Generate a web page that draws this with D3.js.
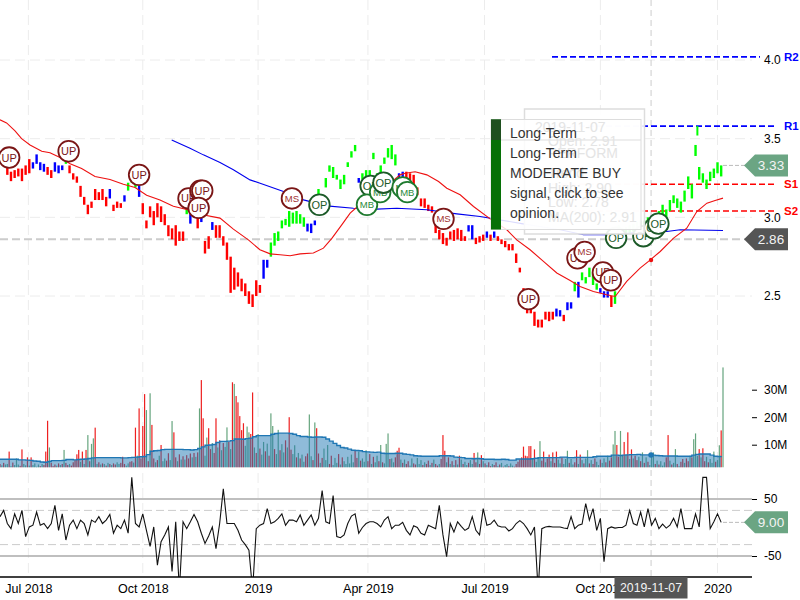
<!DOCTYPE html>
<html>
<head>
<meta charset="utf-8">
<script src="https://cdn.jsdelivr.net/npm/d3@7"></script>
<style>
  html, body { margin: 0; padding: 0; background: #fff; }
  svg { display: block; font-family: "Liberation Sans", Arial, sans-serif; }
  .axis .domain { display: none; }
</style>
</head>
<body>
<div id="chart"></div>
<script>
// price bars, one every second session
const barHigh = [null,null,3.33,3.29,3.30,3.31,3.31,3.33,3.37,3.35,
  3.40,3.35,3.34,3.32,3.30,3.35,3.33,3.33,3.37,3.33,
  3.28,3.26,3.20,3.13,3.08,3.10,3.18,3.16,3.18,3.13,
  3.18,3.08,3.10,3.09,3.14,3.22,3.25,3.24,3.20,3.09,
  2.98,3.07,3.04,3.09,3.07,3.02,2.95,2.93,2.95,2.91,
  2.91,3.08,3.02,3.04,3.00,3.04,2.85,2.88,2.97,2.95,
  2.95,2.88,2.84,2.75,2.68,2.65,2.61,2.58,2.53,2.51,
  2.60,2.57,2.73,2.73,2.84,2.90,2.91,2.98,2.99,3.04,
  3.03,3.04,3.02,3.00,2.96,2.96,2.98,3.18,3.10,3.25,
  3.33,3.32,3.27,3.24,3.27,3.35,3.42,3.46,3.25,3.28,
  3.30,3.30,3.41,3.28,3.33,3.38,3.44,3.46,3.40,3.28,
  3.29,3.29,3.28,3.27,3.19,3.12,3.12,3.08,3.07,2.97,
  2.92,2.90,2.87,2.91,2.92,2.93,2.92,2.88,2.95,2.95,
  2.87,2.88,2.89,2.91,2.89,2.91,2.88,2.86,2.85,2.83,
  2.83,2.77,2.68,2.55,2.47,2.45,2.40,2.35,2.35,2.40,
  2.40,2.40,2.42,2.41,2.38,2.46,2.46,2.59,2.59,2.65,
  2.62,2.68,2.65,2.58,2.55,2.53,2.53,2.50,2.53,2.95,
  2.93,2.94,2.95,2.96,2.97,2.98,2.98,3.00,3.01,3.02,
  3.04,3.08,3.05,3.11,3.14,3.12,3.10,3.17,3.26,3.21,
  3.46,3.32,3.28,3.24,3.29,3.31,3.35,3.33];
const barLow = [null,null,3.27,3.23,3.25,3.26,3.23,3.27,3.28,3.31,
  3.34,3.30,3.29,3.27,3.25,3.29,3.28,3.30,3.34,3.28,
  3.24,3.22,3.13,3.08,3.02,3.06,3.11,3.11,3.11,3.07,
  3.12,3.04,3.06,3.06,3.10,3.17,3.22,3.19,3.13,3.02,
  2.93,3.00,2.95,3.00,2.97,2.95,2.88,2.86,2.82,2.85,
  2.85,3.02,2.96,3.00,2.93,2.97,2.77,2.80,2.92,2.87,
  2.87,2.82,2.73,2.52,2.54,2.56,2.53,2.50,2.45,2.43,
  2.50,2.52,2.61,2.68,2.75,2.82,2.85,2.93,2.95,2.94,
  2.96,2.96,2.96,2.94,2.91,2.90,2.95,3.13,3.05,3.19,
  3.29,3.25,3.24,3.18,3.21,3.32,3.38,3.42,3.22,3.24,
  3.22,3.24,3.37,3.22,3.27,3.34,3.38,3.37,3.33,3.24,
  3.24,3.23,3.22,3.21,3.14,3.07,3.06,3.04,3.03,2.90,
  2.86,2.83,2.82,2.86,2.85,2.86,2.85,2.85,2.91,2.86,
  2.83,2.84,2.85,2.87,2.85,2.87,2.85,2.83,2.81,2.79,
  2.79,2.71,2.65,2.48,2.39,2.39,2.31,2.30,2.30,2.35,
  2.34,2.35,2.37,2.37,2.34,2.41,2.42,2.53,2.49,2.60,
  2.58,2.62,2.57,2.54,2.52,2.49,2.49,2.43,2.45,2.90,
  2.88,2.89,2.90,2.91,2.92,2.93,2.93,2.96,2.98,2.98,
  3.00,3.02,2.98,3.04,3.09,3.06,3.03,3.10,3.18,3.12,
  3.39,3.24,3.22,3.18,3.23,3.25,3.28,3.26];
const barTrend = ("rrrrrrrrrb"+"bbbrrbbbgr"+"rrrrrrrrrr"+"brrrbgggbr"+"rrrrrrrrrr"
  +"rgbgrbrrbr"+"rrrrrrrrrr"+"rrbbgggggg"+"ggggbbbggg"+"ggggggggbg"
  +"gggggggggb"+"brrrrrrrrr"+"rrrrrrrrbb"+"rrrbrbrrrr"+"rrrrrrrrrr"
  +"rrbbrbbgbg"+"ggggbbbrgg"+"ggggggggbg"+"gggggggggg"+"gggggggg").split("");

// one short session sits between two sampled bars, near the top of the run
const extraDay = [381];
const extraHigh = [3.58];
const extraLow = [3.52];

// moving averages
const slowMaDay = [0,3.6,8.2,11.8,16.4,22.8,27.3,32.8,38.3,44.6,51.9,60.1,67.4,73.8,80.1,87.4,94.7,102,109.3,120.2,127.5,135.7,142,147.6,153,158.5,164,171.2,176.7,181.3,186.7,191.3,194.9,204,211.3,218.6,221.3,226.8,233.2,239.6,244.1,251.4,258.7,267.8,276.9,282.3,289.6,296.9,304.2,311.5,316.9,324.2,331.5,336.1,342.4,349.7,354.3,360.7,368,375.2,380.7,386.2,390.7,395];
const slowMa = [3.62,3.60,3.55,3.50,3.46,3.42,3.41,3.38,3.34,3.31,3.26,3.24,3.21,3.19,3.14,3.11,3.07,3.05,3.02,2.995,2.925,2.857,2.794,2.768,2.762,2.756,2.768,2.773,2.804,2.866,2.952,3.027,3.064,3.13,3.2,3.27,3.28,3.29,3.27,3.228,3.185,3.143,3.069,2.99,2.921,2.857,2.794,2.72,2.646,2.599,2.561,2.529,2.508,2.497,2.593,2.677,2.72,2.783,2.868,2.931,3.037,3.09,3.107,3.122];
const longMaDay = [93.8,103.8,111.1,120.2,127.5,136.6,142.1,154.9,165.8,178.5,193.1,205.9,216.8,233.2,249.6,262.3,285,306,318.8,335.2,351.6,364.3,371.6,395];
const longMa = [3.492,3.439,3.397,3.349,3.302,3.238,3.217,3.164,3.111,3.073,3.058,3.052,3.058,3.048,3.022,3.005,2.96,2.921,2.889,2.889,2.91,2.91,2.921,2.916];

// volume in millions, one per session
const volume = [3.0,2.5,3.4,2.8,3.0,7.5,2.2,3.5,2.6,5.0,
  2.8,2.3,8.3,3.0,2.5,5.4,2.4,5.4,2.6,3.2,
  2.0,2.8,2.2,3.0,2.6,7.5,18.7,9.0,3.4,2.2,
  2.8,2.4,3.2,2.6,3.0,8.1,3.4,2.6,3.0,2.4,
  3.6,4.4,6.5,8.1,3.8,7.5,3.0,8.1,13.5,4.0,
  10.3,12.3,16.2,3.0,3.6,2.8,3.2,3.0,2.4,3.4,
  3.0,2.6,3.2,2.8,3.6,3.0,3.4,5.6,3.0,2.4,
  3.2,3.8,4.0,3.5,16.2,6.0,23.2,5.0,16.8,28.4,
  22.6,4.0,28.7,17.2,5.0,3.6,4.4,6.0,9.9,4.0,
  5.0,4.2,6.9,4.4,18.6,14.5,5.4,4.0,6.5,4.6,
  5.8,4.6,6.2,5.0,6.8,5.4,7.0,5.6,7.2,23.2,
  33.5,19.6,6.0,12.6,16.0,8.4,10.6,7.0,19.6,9.0,
  11.6,8.0,10.6,9.2,16.3,11.0,8.4,32.7,32.1,27.7,
  25.4,20.4,15.3,17.8,9.6,16.6,14.5,13.9,29.0,9.0,
  7.0,13.9,8.6,6.4,11.0,7.6,10.4,6.0,21.4,16.8,
  8.4,6.6,15.4,8.0,10.2,7.2,11.6,9.0,20.0,8.2,
  6.6,9.8,5.4,7.0,5.0,6.4,3.8,5.8,6.8,21.0,
  5.8,4.4,18.1,16.0,6.8,3.4,5.2,8.6,4.4,9.9,
  3.0,6.0,2.6,5.2,3.4,6.6,2.8,5.4,4.0,3.0,
  5.6,3.2,6.4,3.6,8.0,5.2,7.4,4.2,5.0,3.8,
  8.0,4.0,6.6,3.0,5.6,3.6,6.0,4.0,9.9,3.6,
  3.2,10.3,14.1,4.8,5.0,3.6,5.4,7.8,8.9,4.6,
  3.4,4.6,3.0,4.0,2.4,5.0,3.2,2.8,5.2,3.0,
  4.4,2.6,3.6,3.0,4.2,2.6,3.4,4.6,3.0,2.4,
  3.0,4.8,13.5,7.8,3.6,5.4,3.0,4.0,2.6,4.4,
  2.8,6.0,4.6,3.0,3.8,2.6,3.4,4.4,3.0,7.0,
  3.6,7.2,3.0,6.2,4.0,3.2,2.6,3.6,2.2,3.0,
  2.6,3.6,2.2,2.8,3.4,2.0,2.6,3.0,2.2,3.2,
  2.4,2.0,3.0,3.8,4.6,5.4,9.3,6.0,5.8,9.5,
  9.5,5.0,8.3,3.8,5.4,11.3,4.2,7.5,3.6,5.0,
  6.4,4.0,7.2,3.4,7.5,4.6,3.2,5.4,3.0,4.8,
  7.8,3.4,4.8,2.8,3.6,8.0,3.0,6.4,4.4,3.2,
  5.0,8.0,3.2,4.4,3.0,5.0,3.8,2.6,4.6,3.4,
  5.0,3.6,6.0,4.2,5.4,10.1,15.0,9.9,5.6,15.0,
  6.0,11.0,6.4,14.5,4.8,8.3,5.0,6.0,4.4,5.6,
  4.0,7.2,3.4,5.4,3.8,2.6,6.2,7.2,3.0,4.2,
  2.8,4.0,2.4,3.6,5.4,13.5,4.2,2.8,3.4,8.4,
  3.0,2.2,3.8,4.8,3.4,5.0,4.0,6.0,5.4,12.0,
  14.1,6.0,8.4,5.4,8.7,4.0,5.6,3.6,4.8,3.4,
  7.5,3.8,4.4,9.8,15.2,38.1];
const volumeDir = ("rgrggrgrgg"+"grrggrgrgg"+"ggrgrrrgrr"+"rgrgrgrrgr"+"rrrrgrgrgr"
  +"ggrgrgrgrg"+"rgrrggrrrg"+"grrgrgrrrr"+"grgrrgrgrg"+"grrggrrgrg"
  +"rgrrrgrgrg"+"rrggrrgrrg"+"rgrggrgrgr"+"rrrrgggrrg"+"rgrggrgrgg"
  +"rggrggrgrr"+"ggrgrggrrg"+"grgrrgrggg"+"rrgggrgrgg"+"ggggrrgrgg"
  +"grrgrggrgr"+"gggrggrrrg"+"rgrrggrrgg"+"grgrrgrgrr"+"grrrgrgrgr"
  +"grgrggrggr"+"rgrrgrgrrg"+"rrgrgrggrg"+"grrrrrrrrr"+"rgrgggrrgr"
  +"rgrrrggrgg"+"grggrrgrgr"+"ggrgrrggrg"+"grgrrggrrg"+"grgrgrgrrg"
  +"rgrgrgggrg"+"rgggrrgrgg"+"rgrrgrrgrg"+"ggrgrrgrgg"+"grggrg").split("");
const volumeMa = [4.7,4.7,4.7,4.7,4.7,4.5,4.5,4.4,4.3,4.1,
  4.0,3.7,3.6,3.9,4.2,4.2,4.2,4.3,4.6,4.6,
  4.5,4.6,4.7,4.8,5.0,5.2,5.3,5.3,5.3,5.3,
  5.3,5.3,5.3,5.2,5.2,5.3,5.4,5.5,5.6,5.7,
  6.4,7.6,7.8,7.9,8.2,8.3,8.3,8.3,8.3,8.3,
  8.2,8.2,8.1,8.2,8.6,9.2,9.8,9.9,10.1,10.8,
  11.2,11.2,11.3,11.5,12.1,12.1,12.0,12.2,12.4,12.9,
  13.3,13.3,13.3,13.3,13.8,14.1,14.2,14.2,14.2,14.1,
  13.8,13.3,13.0,13.0,12.8,12.7,12.8,12.8,12.7,12.1,
  11.3,10.5,9.7,9.0,8.8,8.4,8.0,7.9,7.8,7.5,
  7.4,7.3,7.2,7.3,6.9,6.8,6.8,6.8,6.9,6.9,
  6.6,6.5,6.3,6.0,5.9,5.8,5.8,5.8,5.8,5.8,
  6.0,6.0,6.0,5.9,5.5,5.4,5.3,5.0,5.0,4.9,
  5.0,4.9,4.7,4.7,4.7,4.6,4.6,4.7,4.6,4.4,
  4.4,4.8,4.8,4.8,4.8,4.9,5.1,5.3,5.3,5.3,
  5.3,5.3,5.3,5.5,5.5,5.3,5.3,5.4,5.4,5.4,
  5.4,5.4,5.6,5.8,5.8,5.8,5.8,6.2,6.2,6.1,
  6.2,6.3,6.4,6.4,6.5,6.3,6.3,6.3,6.2,6.1,
  6.0,5.9,5.9,5.9,5.9,5.8,5.8,5.8,5.8,6.2,
  6.5,6.6,6.6,6.6,6.2,5.8,5.7,5.9];

// oscillator, one every second session
const oscillator = [19,30,7,-2,24,7,30,-16,1,4,
  27,4,7,-2,7,39,-5,24,-22,4,
  13,-2,13,7,-13,13,9,19,7,13,
  23,-10,4,-2,13,-10,88,7,1,24,
  -5,-33,1,-66,-25,-13,1,-77,10,-110,
  10,-2,10,23,10,-10,-28,-15,1,-37,
  7,68,7,7,7,-5,-22,-30,-40,-110,
  -2,4,7,33,7,10,16,24,4,13,
  13,10,22,4,13,22,4,16,65,10,
  7,56,-16,-18,-13,7,20,24,-10,0,
  7,10,10,7,1,13,19,-2,4,4,
  9,-5,-13,3,0,-10,-13,4,1,-2,
  39,-13,-51,7,-8,10,2,-5,-1,19,
  -5,-13,33,4,6,13,3,1,1,-6,
  -2,7,12,7,-2,-13,1,-110,-2,1,
  2,1,1,1,-1,-2,19,-2,4,6,
  42,13,33,-5,16,-60,-2,1,-1,0,
  0,4,30,7,4,27,1,33,4,16,
  -2,6,-1,4,16,1,33,-2,-2,-2,
  24,1,88,88,-2,10,24,9];

const priceTicks = [2.5,3.0,3.5,4.0];
const volumeTicks = [10,20,30];
const oscTicks = [-50,50];
const oscBands = [-30,30];

const dateTickDays = [15.5,78,141,201,264.7,328,392];
const dateTickLabels = ["Jul 2018","Oct 2018","2019","Apr 2019","Jul 2019","Oct 2019","2020"];

const levelNames = ["R2","R1","S1","S2"];
const levelPrices = [4.02,3.58,3.21,3.04];
const levelColors = ["#0000ff","#0000ff","#ff0000","#ff0000"];

const hoverDay = 355.7;
const hoverDate = "2019-11-07";
const hoverPrice = 2.86;
const lastPrice = 3.33;
const lastOsc = 9;

// signal badges in draw order
const signalNames = ["UP","UP","UP","UP","UP","UP","UP","MS","OP","OP","MB","MB","OP","MB","MB","MS","UP","OP","UP","MS","UP","UP","OP","OP","OP"];
const signalDays = [5,37.5,76,103,109.5,110.5,108.5,159.5,174.5,202.5,200.5,207.7,209.5,220,222.5,242.3,288.7,336.6,315.5,319.4,329.4,333.7,351.5,357.4,359.7];
const signalPrices = [3.38,3.42,3.27,3.12,3.17,3.17,3.06,3.12,3.08,3.20,3.08,3.16,3.22,3.19,3.16,2.99,2.48,2.87,2.74,2.78,2.65,2.60,2.88,2.93,2.96];

const badgeStyle = {
  UP: {stroke: "#7a1616", text: "#7a1616", size: 11},
  MS: {stroke: "#7a1616", text: "#a03030", size: 9.5},
  OP: {stroke: "#1c5a28", text: "#1c5a28", size: 11},
  MB: {stroke: "#1e7a2e", text: "#2a8a3a", size: 9.5}
};
const trendColor = {r: "#ff0000", b: "#0000ff", g: "#00ff00"};
const volColor = {r: "#ee2020", g: "#66a57e"};

// tooltip text
const tipLines = ["Long-Term", "Long-Term", "MODERATE BUY", "signal, click to see", "opinion."];
const backLines = ["2019-11-07", "Open: 2.91", "PERFORM", "Trend", "High: 2.90", "Low: 2.78", "MA(200): 2.91"];

const width = 800, height = 600, plotRight = 752;

const svg = d3.select("#chart").append("svg")
  .attr("width", width)
  .attr("height", height);

const x = d3.scaleLinear().domain([0, 395]).range([0, 723]);
const yPrice = d3.scaleLinear().domain([2.5, 4]).range([296, 60]);
const yVol = d3.scaleLinear().domain([0, 30]).range([472.2, 389.7]);
const yOsc = d3.scaleLinear().domain([-50, 50]).range([556, 499]);

const defs = svg.append("defs");
defs.append("clipPath").attr("id", "volClip").append("rect")
  .attr("x", 0).attr("y", 360).attr("width", plotRight).attr("height", 107.3);
defs.append("clipPath").attr("id", "oscClip").append("rect")
  .attr("x", 0).attr("y", 476).attr("width", plotRight).attr("height", 101);

// grid
const grid = svg.append("g").attr("stroke", "#ececec").attr("stroke-width", 1).attr("stroke-dasharray", "10,5");
[[0, 355], [362, 467], [473, 577]].forEach(span => {
  grid.append("g").selectAll("line").data(dateTickDays).join("line")
    .attr("x1", d => x(d)).attr("x2", d => x(d))
    .attr("y1", span[0]).attr("y2", span[1]);
});
grid.append("g").selectAll("line").data(priceTicks).join("line")
  .attr("x1", 0).attr("x2", plotRight)
  .attr("y1", d => yPrice(d)).attr("y2", d => yPrice(d));

// hover cross
svg.append("line")
  .attr("x1", x(hoverDay)).attr("x2", x(hoverDay)).attr("y1", 0).attr("y2", 577)
  .attr("stroke", "#cccccc").attr("stroke-dasharray", "6,4");
svg.append("line")
  .attr("x1", 0).attr("x2", 745).attr("y1", yPrice(hoverPrice)).attr("y2", yPrice(hoverPrice))
  .attr("stroke", "#cccccc").attr("stroke-width", 2).attr("stroke-dasharray", "8,4");

// support and resistance lines
svg.append("g").selectAll("line").data(levelNames).join("line")
  .attr("x1", 552)
  .attr("x2", (d, i) => i === 0 ? 760 : 776)
  .attr("y1", (d, i) => yPrice(levelPrices[i]))
  .attr("y2", (d, i) => yPrice(levelPrices[i]))
  .attr("stroke", (d, i) => levelColors[i])
  .attr("stroke-width", 1.6)
  .attr("stroke-dasharray", "6,3");
svg.append("g").selectAll("text").data(levelNames).join("text")
  .attr("x", 784)
  .attr("y", (d, i) => yPrice(levelPrices[i]) + 4)
  .attr("fill", (d, i) => levelColors[i])
  .attr("font-size", 11.5)
  .attr("font-weight", "bold")
  .text(d => d);

// price bars
svg.append("g").selectAll("rect").data(barHigh.map((h, i) => i).filter(i => barHigh[i] !== null)).join("rect")
  .attr("x", i => x(i * 2) - 1.2)
  .attr("y", i => yPrice(barHigh[i]))
  .attr("width", 2.4)
  .attr("height", i => yPrice(barLow[i]) - yPrice(barHigh[i]))
  .attr("fill", i => trendColor[barTrend[i]]);
svg.append("g").selectAll("rect").data(extraDay).join("rect")
  .attr("x", d => x(d) - 1)
  .attr("y", (d, i) => yPrice(extraHigh[i]))
  .attr("width", 2)
  .attr("height", (d, i) => yPrice(extraLow[i]) - yPrice(extraHigh[i]))
  .attr("fill", trendColor.g);

// moving averages
const maLine = d3.line().x(d => x(d[0])).y(d => yPrice(d[1]));
svg.append("path")
  .attr("d", maLine(longMaDay.map((d, i) => [d, longMa[i]])))
  .attr("fill", "none").attr("stroke", "#0000ee").attr("stroke-width", 1.1);
svg.append("path")
  .attr("d", maLine(slowMaDay.map((d, i) => [d, slowMa[i]])))
  .attr("fill", "none").attr("stroke", "#ee1111").attr("stroke-width", 1.1);
svg.append("circle")
  .attr("cx", x(hoverDay)).attr("cy", 260).attr("r", 2.2).attr("fill", "#ee1111");

// volume panel
const volPanel = svg.append("g").attr("clip-path", "url(#volClip)");
volPanel.append("g").selectAll("rect").data(volume).join("rect")
  .attr("x", (d, i) => x(i) - 0.6)
  .attr("y", d => yVol(d))
  .attr("width", 1.2)
  .attr("height", d => yVol(0) - yVol(d))
  .attr("fill", (d, i) => volColor[volumeDir[i]]);
const volArea = d3.area().curve(d3.curveStepAfter)
  .x((d, i) => x(i * 2)).y0(yVol(0)).y1(d => yVol(d));
const volLine = d3.line().curve(d3.curveStepAfter)
  .x((d, i) => x(i * 2)).y(d => yVol(d));
volPanel.append("path").attr("d", volArea(volumeMa))
  .attr("fill", "#1f77b4").attr("fill-opacity", 0.5);
volPanel.append("path").attr("d", volLine(volumeMa))
  .attr("fill", "none").attr("stroke", "#1f77b4").attr("stroke-width", 1.4);
svg.append("circle")
  .attr("cx", x(hoverDay)).attr("cy", 455).attr("r", 2.8).attr("fill", "#1f77b4");

// oscillator panel
svg.append("g").selectAll("line").data(oscTicks).join("line")
  .attr("x1", 0).attr("x2", plotRight)
  .attr("y1", d => yOsc(d)).attr("y2", d => yOsc(d))
  .attr("stroke", "#aaaaaa").attr("stroke-width", 1.5);
svg.append("g").selectAll("line").data(oscBands).join("line")
  .attr("x1", 0).attr("x2", plotRight)
  .attr("y1", d => yOsc(d)).attr("y2", d => yOsc(d))
  .attr("stroke", "#cccccc").attr("stroke-dasharray", "8,4");
svg.append("g").attr("clip-path", "url(#oscClip)").append("path")
  .attr("d", d3.line().x((d, i) => x(i * 2)).y(d => yOsc(d))(oscillator))
  .attr("fill", "none").attr("stroke", "#111111").attr("stroke-width", 1.1);

// axes on the right
function rightAxis(scale, ticks, size, fmt) {
  const g = svg.append("g").attr("class", "axis")
    .attr("transform", "translate(752,0)")
    .call(d3.axisRight(scale).tickValues(ticks).tickSize(size).tickPadding(12 - size).tickFormat(fmt));
  g.selectAll("text").attr("font-size", 12).attr("font-family", "Liberation Sans").attr("fill", "#000");
  g.selectAll("line").attr("stroke", "#000");
}
rightAxis(yPrice, priceTicks, 0, d3.format(".1f"));
rightAxis(yVol, volumeTicks, 5, d => d + "M");
rightAxis(yOsc, oscTicks, 5, d => d);

// date axis
svg.append("line").attr("x1", 0).attr("x2", plotRight).attr("y1", 577).attr("y2", 577)
  .attr("stroke", "#000").attr("stroke-width", 1.4);
const dateAxis = svg.append("g").attr("class", "axis")
  .attr("transform", "translate(0,577)")
  .call(d3.axisBottom(x).tickValues(dateTickDays).tickSize(0).tickPadding(7)
    .tickFormat((d, i) => dateTickLabels[i]));
dateAxis.selectAll("text").attr("font-size", 12.5).attr("font-family", "Liberation Sans").attr("fill", "#000");

// value tags
function valueTag(yPos, fill, label, tail) {
  if (tail) {
    svg.append("line").attr("x1", 723).attr("x2", 745).attr("y1", yPos).attr("y2", yPos)
      .attr("stroke", "#bbbbbb").attr("stroke-dasharray", "4,2");
  }
  svg.append("path")
    .attr("d", `M744,${yPos}L755,${yPos - 11}H788V${yPos + 11}H755Z`)
    .attr("fill", fill);
  svg.append("text").attr("x", 771).attr("y", yPos + 5)
    .attr("text-anchor", "middle").attr("fill", "#f4f4f4").attr("font-size", 13.5)
    .text(label);
}
valueTag(yPrice(lastPrice), "#6ba583", lastPrice.toFixed(2), true);
valueTag(yPrice(hoverPrice), "#555555", hoverPrice.toFixed(2), false);
valueTag(yOsc(lastOsc), "#6ba583", lastOsc.toFixed(2), true);

// hovered date
svg.append("rect").attr("x", 614.5).attr("y", 577).attr("width", 73).attr("height", 21.5).attr("fill", "#555555");
svg.append("text").attr("x", 651).attr("y", 592)
  .attr("text-anchor", "middle").attr("fill", "#f4f4f4").attr("font-size", 12.3)
  .text(hoverDate);

// signal badges
const badges = svg.append("g").selectAll("g").data(signalNames).join("g")
  .attr("transform", (d, i) => `translate(${x(signalDays[i])},${yPrice(signalPrices[i])})`);
badges.append("circle").attr("r", 10.3)
  .attr("fill", "#fff")
  .attr("stroke", d => badgeStyle[d].stroke)
  .attr("stroke-width", 1.8);
badges.append("text")
  .attr("text-anchor", "middle").attr("dy", "0.36em")
  .attr("font-size", d => badgeStyle[d].size)
  .attr("fill", d => badgeStyle[d].text)
  .text(d => d);

// inner tooltip
svg.append("rect").attr("x", 524.5).attr("y", 109).attr("width", 120).attr("height", 125)
  .attr("fill", "#fff").attr("fill-opacity", 0.9)
  .attr("stroke", "#dddddd").attr("stroke-width", 1.5);

// outer tooltip
const tip = svg.append("g");
tip.append("rect").attr("x", 491).attr("y", 119.5).attr("width", 150).attr("height", 110)
  .attr("fill", "#fff").attr("fill-opacity", 0.86).attr("stroke", "#dddddd");
tip.append("line").attr("x1", 501).attr("x2", 641).attr("y1", 140).attr("y2", 140).attr("stroke", "#dddddd");

// the inner tooltip's text only shows faintly through the outer one
svg.append("g").selectAll("text").data(backLines).join("text")
  .attr("x", (d, i) => i === 0 ? 535 : 548)
  .attr("y", (d, i) => [132, 146, 158, 178, 193, 207, 222][i])
  .attr("font-size", 14).attr("fill", "#e4e4e4")
  .text(d => d);

tip.append("rect").attr("x", 491).attr("y", 119.5).attr("width", 10).attr("height", 110).attr("fill", "#067006");
tip.append("rect").attr("x", 491).attr("y", 119.5).attr("width", 10).attr("height", 20.5).attr("fill", "#1f4f1f");
svg.append("g").selectAll("text").data(tipLines).join("text")
  .attr("x", 510)
  .attr("y", (d, i) => 138 + i * 20)
  .attr("font-size", 14).attr("fill", "#333333")
  .text(d => d);
</script>
</body>
</html>
